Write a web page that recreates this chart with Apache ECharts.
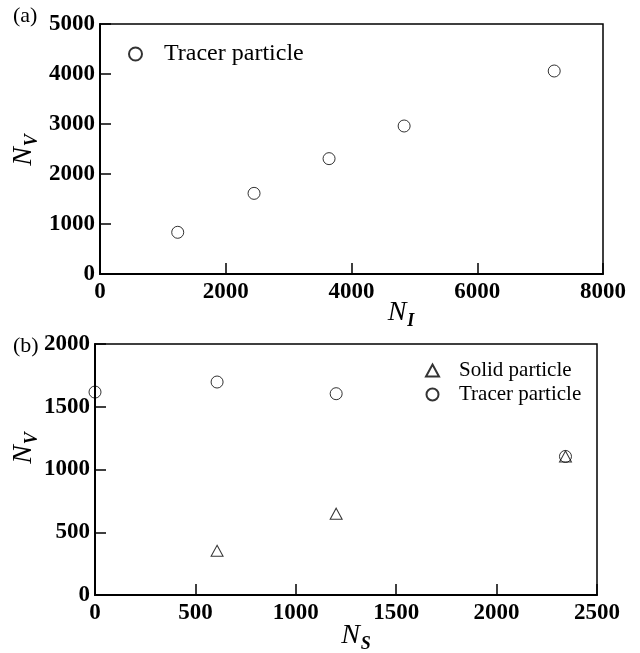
<html>
<head>
<meta charset="utf-8">
<script src="https://cdn.jsdelivr.net/npm/echarts@6/dist/echarts.min.js"></script>
<style>
    body { margin: 0; background: #fff; }
    #main { width: 640px; height: 653px; }
</style>
</head>
<body>
<div id="main"></div>
<script>
    // panel (a): N_V against N_I
    var tracerA_x = [1236, 2450, 3643, 4837, 7224];
    var tracerA_y = [834, 1613, 2307, 2960, 4060];
    // panel (b): N_V against N_S
    var tracerB_x = [0, 608, 1201, 2343];
    var tracerB_y = [1617, 1697, 1604, 1104];
    var solidB_x = [608, 1201, 2343];
    var solidB_y = [353, 648, 1104];

    var xTicksA = [0, 8000, 2000];   // min, max, interval
    var yTicksA = [0, 5000, 1000];
    var xTicksB = [0, 2500, 500];
    var yTicksB = [0, 2000, 500];

    var serif = 'Liberation Serif';

    function pairs(xs, ys) {
        var out = [];
        for (var i = 0; i < xs.length; i++) out.push([xs[i], ys[i]]);
        return out;
    }

    function axis(idx, t, isY) {
        return {
            type: 'value',
            gridIndex: idx,
            min: t[0], max: t[1], interval: t[2],
            axisLine: { show: true, onZero: false, lineStyle: { color: '#000', width: 2 } },
            axisTick: { show: true, inside: true, length: 11, lineStyle: { color: '#000', width: 1.5 } },
            splitLine: { show: false },
            axisLabel: {
                color: '#000', fontFamily: serif, fontWeight: 'bold', fontSize: 23,
                margin: isY ? 5 : 7,
                formatter: function (v) { return String(v); }
            }
        };
    }

    var hollow = { color: 'transparent', borderColor: '#000', borderWidth: 1 };

    var sub = {
        n: { fontFamily: serif, fontStyle: 'italic', fontSize: 28, fill: '#000', lineHeight: 34 },
        s: { fontFamily: serif, fontStyle: 'italic', fontWeight: 'bold', fontSize: 18, fill: '#000',
             lineHeight: 18, padding: [16, 0, 0, 1] }
    };

    var myChart = echarts.init(document.getElementById('main'), null, { renderer: 'canvas' });
    var option = {
        animation: false,
        backgroundColor: '#fff',
        grid: [
            { left: 100, top: 24, width: 503, height: 250, show: true, borderColor: '#000', borderWidth: 1.5, backgroundColor: 'transparent' },
            { left: 95, top: 344, width: 502, height: 251, show: true, borderColor: '#000', borderWidth: 1.5, backgroundColor: 'transparent' }
        ],
        xAxis: [axis(0, xTicksA, false), axis(1, xTicksB, false)],
        yAxis: [axis(0, yTicksA, true), axis(1, yTicksB, true)],
        legend: [
            {
                data: ['Tracer particle'],
                left: 123, top: 37, orient: 'vertical',
                itemWidth: 13, itemHeight: 13,
                selectedMode: false,
                textStyle: { fontFamily: serif, fontSize: 24, color: '#000', padding: [0, 0, 0, 17] }
            },
            {
                data: ['Solid particle', 'Tracer particle'],
                left: 420, top: 355, orient: 'vertical',
                itemWidth: 13, itemHeight: 12, itemGap: 3,
                selectedMode: false,
                textStyle: { fontFamily: serif, fontSize: 21, color: '#000', padding: [0, 0, 0, 15] }
            }
        ],
        series: [
            {
                name: 'Tracer particle', type: 'scatter', xAxisIndex: 0, yAxisIndex: 0,
                symbol: 'circle', symbolSize: 12, itemStyle: hollow, silent: true,
                data: pairs(tracerA_x, tracerA_y)
            },
            {
                name: 'Solid particle', type: 'scatter', xAxisIndex: 1, yAxisIndex: 1,
                symbol: 'triangle', symbolSize: [12, 11], itemStyle: hollow, silent: true,
                data: pairs(solidB_x, solidB_y)
            },
            {
                name: 'Tracer particle', type: 'scatter', xAxisIndex: 1, yAxisIndex: 1,
                symbol: 'circle', symbolSize: 12, itemStyle: hollow, silent: true,
                data: pairs(tracerB_x, tracerB_y)
            }
        ],
        graphic: [
            { type: 'text', left: 13, top: 5, style: { text: '(a)', font: '22px "Liberation Serif"', fill: '#000' } },
            { type: 'text', left: 13, top: 335, style: { text: '(b)', font: '22px "Liberation Serif"', fill: '#000' } },
            { type: 'text', x: 24, y: 150, rotation: Math.PI / 2,
              style: { text: '{n|N}{s|V}', rich: sub, align: 'center', verticalAlign: 'middle' } },
            { type: 'text', x: 24, y: 448, rotation: Math.PI / 2,
              style: { text: '{n|N}{s|V}', rich: sub, align: 'center', verticalAlign: 'middle' } },
            { type: 'text', x: 401, y: 313,
              style: { text: '{n|N}{s|I}', rich: sub, align: 'center', verticalAlign: 'middle' } },
            { type: 'text', x: 356, y: 636,
              style: { text: '{n|N}{s|S}', rich: sub, align: 'center', verticalAlign: 'middle' } }
        ]
    };
    myChart.setOption(option);
</script>
</body>
</html>
